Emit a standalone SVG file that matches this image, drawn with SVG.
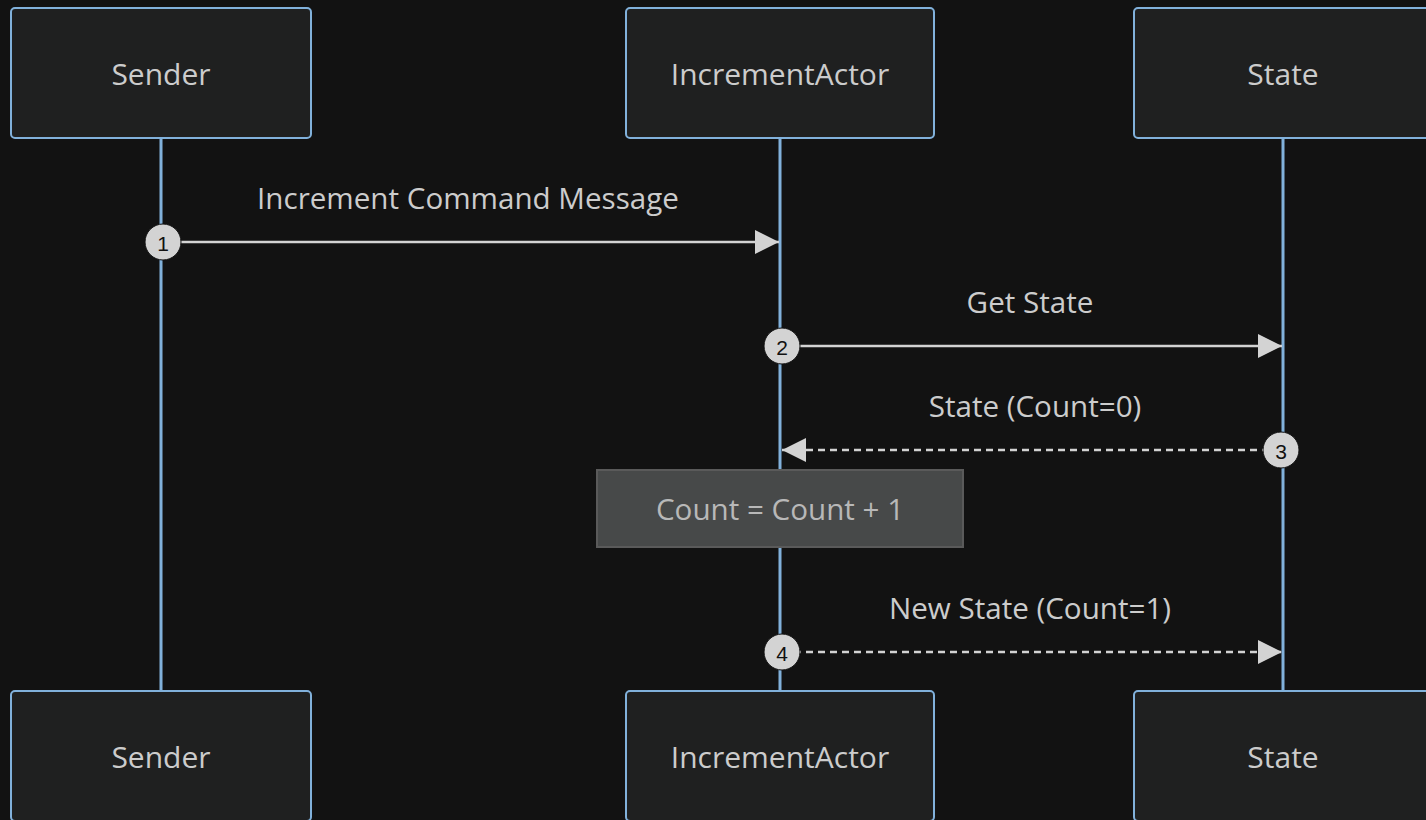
<svg xmlns="http://www.w3.org/2000/svg" width="1426" height="820" viewBox="0 0 1426 820">
  <style>
    .actor rect { fill: #1f2020; stroke: #81b1db; stroke-width: 2; }
    .actor text { fill: #cccccc; font-family: "Open Sans", "Noto Sans", sans-serif; font-size: 30px; text-anchor: middle; dominant-baseline: central; }
    .lifeline { stroke: #81b1db; stroke-width: 3; }
    .msg { stroke: #d3d3d3; stroke-width: 2.5; fill: none; }
    .dashed { stroke-dasharray: 7 5; }
    .label { fill: #cccccc; font-family: "Open Sans", "Noto Sans", sans-serif; font-size: 29.6px; text-anchor: middle; dominant-baseline: central; }
    .seq circle { fill: #d3d3d3; stroke: #111111; stroke-width: 1; }
    .seq text { fill: #111111; font-family: "Liberation Sans", Arial, sans-serif; font-size: 21px; text-anchor: middle; dominant-baseline: central; }
    .note rect { fill: #474949; stroke: #5a5a5a; stroke-width: 2; }
    .note text { fill: #b8b8b8; font-family: "Open Sans", "Noto Sans", sans-serif; font-size: 29.6px; text-anchor: middle; dominant-baseline: central; }
  </style>
  <defs>
    <marker id="arrowhead" viewBox="0 0 24 24" refX="24" refY="12" markerWidth="24" markerHeight="24" markerUnits="userSpaceOnUse" orient="auto">
      <path d="M0 0 L24 12 L0 24 Z" fill="#d3d3d3"/>
    </marker>
  </defs>
  <rect width="1426" height="820" fill="#121212"/>

  <!-- lifelines -->
  <g id="lifelines">
    <line class="lifeline" x1="161" y1="138" x2="161" y2="691"/>
    <line class="lifeline" x1="780" y1="138" x2="780" y2="691"/>
    <line class="lifeline" x1="1283" y1="138" x2="1283" y2="691"/>
  </g>

  <!-- participants, top row -->
  <g id="sender-top" class="actor"><rect x="11" y="8" width="300" height="130" rx="4"/><text x="161" y="73">Sender</text></g>
  <g id="increment-actor-top" class="actor"><rect x="626" y="8" width="308" height="130" rx="4"/><text x="780" y="73">IncrementActor</text></g>
  <g id="state-top" class="actor"><rect x="1134" y="8" width="300" height="130" rx="4"/><text x="1283" y="73">State</text></g>

  <!-- participants, bottom row -->
  <g id="sender-bottom" class="actor"><rect x="11" y="691" width="300" height="130" rx="4"/><text x="161" y="756">Sender</text></g>
  <g id="increment-actor-bottom" class="actor"><rect x="626" y="691" width="308" height="130" rx="4"/><text x="780" y="756">IncrementActor</text></g>
  <g id="state-bottom" class="actor"><rect x="1134" y="691" width="300" height="130" rx="4"/><text x="1283" y="756">State</text></g>

  <!-- note over IncrementActor -->
  <g id="note" class="note">
    <rect x="597" y="470" width="366" height="77"/>
    <text x="780" y="508">Count = Count + 1</text>
  </g>

  <!-- messages -->
  <g id="connectors">
    <text class="label" x="468" y="197">Increment Command Message</text>
    <line class="msg" x1="163" y1="242" x2="779" y2="242" marker-end="url(#arrowhead)"/>

    <text class="label" x="1030" y="301">Get State</text>
    <line class="msg" x1="782" y1="346" x2="1282" y2="346" marker-end="url(#arrowhead)"/>

    <text class="label" x="1035" y="405">State (Count=0)</text>
    <line class="msg dashed" x1="1281" y1="450" x2="782" y2="450" marker-end="url(#arrowhead)"/>

    <text class="label" x="1030" y="607">New State (Count=1)</text>
    <line class="msg dashed" x1="782" y1="652" x2="1282" y2="652" marker-end="url(#arrowhead)"/>
  </g>

  <!-- sequence numbers -->
  <g id="sequence-numbers" class="seq">
    <g id="seq-1"><circle cx="163" cy="242" r="18"/><text x="163" y="243">1</text></g>
    <g id="seq-2"><circle cx="782" cy="346" r="18"/><text x="782" y="347">2</text></g>
    <g id="seq-3"><circle cx="1281" cy="450" r="18"/><text x="1281" y="451">3</text></g>
    <g id="seq-4"><circle cx="782" cy="652" r="18"/><text x="782" y="653">4</text></g>
  </g>
</svg>
